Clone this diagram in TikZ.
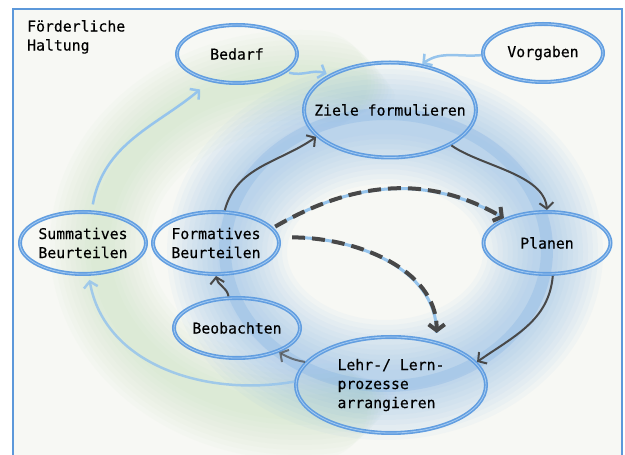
\documentclass[tikz,border=0pt]{standalone}
\usepackage{fontspec}
\setmainfont{DejaVu Sans Mono}[FakeBold=0.4]
\usetikzlibrary{shapes.geometric,arrows.meta}

\definecolor{paper}{RGB}{247,248,244}
\definecolor{framecol}{RGB}{92,152,218}
\definecolor{ringcol}{RGB}{98,158,224}
\definecolor{ringlight}{RGB}{165,203,242}
\definecolor{washblue}{RGB}{120,175,235}
\definecolor{washgreen}{RGB}{185,220,175}
\definecolor{inkgray}{RGB}{72,72,72}
\definecolor{paleblue}{RGB}{150,196,236}

\begin{document}
\begin{tikzpicture}[
  x=1pt, y=1pt,
  bubble/.style={ellipse, draw=ringcol, line width=4pt, inner sep=0pt,
    font=\fontsize{14.8}{19}\selectfont,
    postaction={draw=ringlight, line width=0.8pt}},
  solidarrow/.style={draw=inkgray, line width=2pt, -{Straight Barb[length=6pt,width=14pt]}},
  dashedarrow/.style={draw=inkgray, line width=4pt, dash pattern=on 13pt off 7pt,
    -{Straight Barb[length=6pt,width=16pt]},
    preaction={draw=paleblue, line width=3pt, solid, -}},
  palearrow/.style={draw=paleblue, line width=2.5pt, -{Straight Barb[length=6pt,width=14pt]}}
  ]
  \useasboundingbox (0,0) rectangle (625,455);
  \fill[white] (0,0) rectangle (625,455);
  \filldraw[fill=paper, draw=framecol, line width=1.5pt] (13,-5) rectangle (622,446);

  \foreach \w in {20,30,...,100}
    \draw[washgreen, line width=\w pt, opacity=.05, line cap=round] (300,210) ++(60+\w/4:200 and 165)
      arc[start angle=60+\w/4, end angle=300-\w/4, x radius=200, y radius=165];
  \foreach \w in {20,30,...,120}
    \draw[washblue, line width=\w pt, opacity=.05] (385,203) ellipse [x radius=158, y radius=128];
  \draw[ringcol, line width=12pt, opacity=.2] (386,205) ellipse [x radius=161, y radius=136];

  \node[anchor=north west, align=left, inner sep=0pt, font=\fontsize{14.8}{19}\selectfont]
    (haltung) at (27,435) {Förderliche\\Haltung};

  \node[bubble, minimum width=120pt, minimum height=58pt] (bedarf) at (237,401) {Bedarf};
  \node[bubble, minimum width=120pt, minimum height=58pt] (vorgaben) at (543,402) {Vorgaben};
  \node[bubble, minimum width=172pt, minimum height=95pt, inner xsep=-15pt] (ziele) at (390,345) {Ziele formulieren};
  \node[bubble, minimum width=127pt, minimum height=62pt] (planen) at (547,212) {Planen};
  \node[bubble, minimum width=190pt, minimum height=96pt, align=left] (lehr) at (391,70) {Lehr-/ Lern-\\prozesse\\arrangieren};
  \node[bubble, minimum width=120pt, minimum height=60pt] (beob) at (237,127) {Beobachten};
  \node[bubble, minimum width=126pt, minimum height=62pt, align=left] (form) at (216,212) {Formatives\\Beurteilen};
  \node[bubble, minimum width=126pt, minimum height=62pt, align=left] (summ) at (83,212) {Summatives\\Beurteilen};

  \draw[solidarrow] (form.75) to[out=75, in=215] (ziele.200);
  \draw[solidarrow] (ziele.330) to[out=-35, in=95, looseness=.8] (planen.90);
  \draw[solidarrow] (planen.280) to[out=-95, in=35] (lehr.15);
  \draw[solidarrow, opacity=.7] (lehr.165) to[out=170, in=-30] (beob.330);
  \draw[solidarrow] (beob.105) to[out=100, in=-80] (form.270);
  \draw[dashedarrow, shorten <=2pt] (form.15) to[out=30, in=150] (planen.150);
  \draw[dashedarrow, shorten <=12pt, shorten >=8pt] (form.5) to[out=0, in=90] (lehr.44);

  \draw[palearrow, shorten <=6pt, shorten >=12pt] (summ.75) to[out=80, in=220] (bedarf.225);
  \draw[palearrow, shorten <=2pt, shorten >=2pt] (bedarf.340) to[out=-15, in=160] (ziele.150);
  \draw[palearrow] (vorgaben.182) to[out=185, in=35] (ziele.55);
  \draw[palearrow, opacity=.85, shorten >=4pt] (lehr.178) to[out=190, in=-80] (summ.280);
\end{tikzpicture}
\end{document}
